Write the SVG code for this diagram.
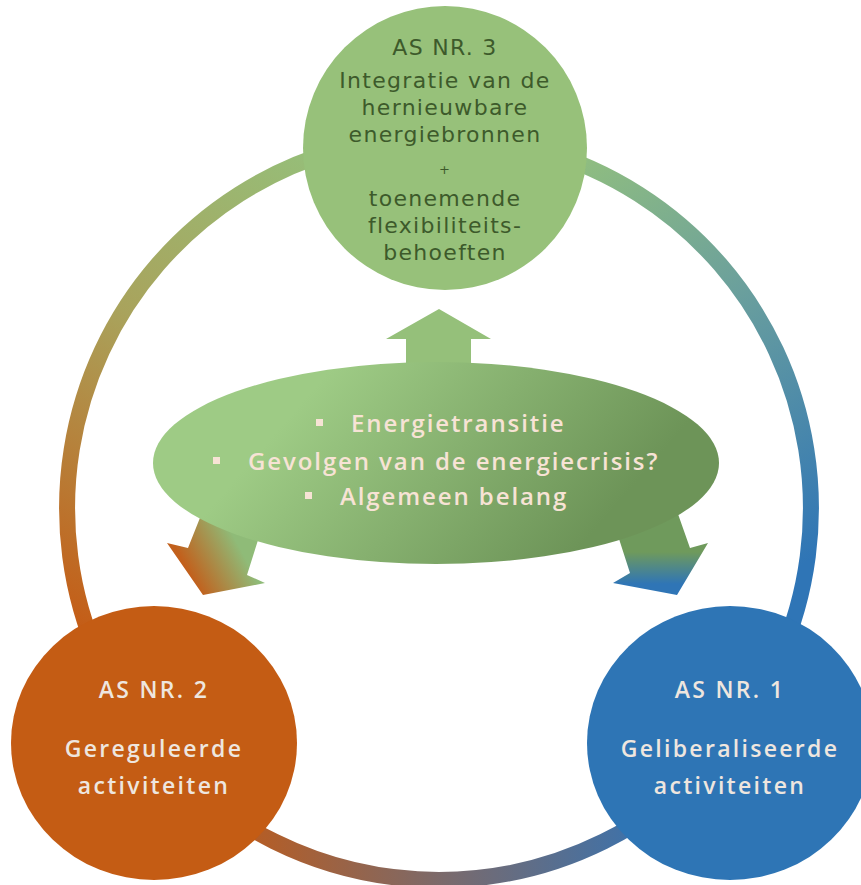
<svg xmlns="http://www.w3.org/2000/svg" width="861" height="885" viewBox="0 0 861 885">
<defs>
<style>
.ring{fill:none;stroke-width:16}
.t3{font-family:"DejaVu Sans","Open Sans",sans-serif;font-size:22px;fill:#3d5a2b;text-anchor:middle;letter-spacing:1.3px}
.tb{font-family:"Open Sans","Liberation Sans",sans-serif;font-size:23px;font-weight:600;fill:#eee6df;text-anchor:middle;letter-spacing:2.3px}
.te{font-family:"Open Sans","Liberation Sans",sans-serif;font-size:24px;font-weight:600;fill:#f7e3d5;letter-spacing:1.9px}
.bul{fill:#f7e3d5}
</style>
<linearGradient id="gLeft" gradientUnits="userSpaceOnUse" x1="330" y1="150" x2="70" y2="620">
<stop offset="0" stop-color="#95bf7a"/>
<stop offset="0.45" stop-color="#a9a35c"/>
<stop offset="1" stop-color="#c45d17"/>
</linearGradient>
<linearGradient id="gRight" gradientUnits="userSpaceOnUse" x1="560" y1="150" x2="810" y2="560">
<stop offset="0" stop-color="#93c07d"/>
<stop offset="0.45" stop-color="#6a9f9d"/>
<stop offset="1" stop-color="#2f75b6"/>
</linearGradient>
<linearGradient id="gBottom" gradientUnits="userSpaceOnUse" x1="250" y1="830" x2="640" y2="830">
<stop offset="0" stop-color="#b65d24"/>
<stop offset="0.5" stop-color="#7a6a6c"/>
<stop offset="1" stop-color="#3d72ab"/>
</linearGradient>
<linearGradient id="gEll" gradientUnits="userSpaceOnUse" x1="330" y1="370" x2="560" y2="570">
<stop offset="0" stop-color="#9ecb85"/>
<stop offset="1" stop-color="#6d9458"/>
</linearGradient>
<linearGradient id="gArrL" gradientUnits="userSpaceOnUse" x1="190" y1="575" x2="240" y2="548">
<stop offset="0" stop-color="#c2601c"/>
<stop offset="1" stop-color="#8fbb78"/>
</linearGradient>
<linearGradient id="gArrR" gradientUnits="userSpaceOnUse" x1="0" y1="552" x2="0" y2="584">
<stop offset="0" stop-color="#6f9a5c"/>
<stop offset="1" stop-color="#2f75b6"/>
</linearGradient>
</defs>
<rect width="861" height="885" fill="#ffffff"/>
<g id="connectors">
<path class="ring" stroke="url(#gLeft)" d="M439,136 A372,372 0 0 0 154,747"/>
<path class="ring" stroke="url(#gRight)" d="M439,136 A372,372 0 0 1 724,747"/>
<path class="ring" stroke="url(#gBottom)" d="M154,747 A372,372 0 0 0 724,747"/>
<polygon id="arrow-up" fill="#95c07a" points="406,380 406,339 386,339 439,309 491,339 471,339 471,380"/>
<polygon id="arrow-left" fill="url(#gArrL)" points="215,480 188,548 167,543 203,595 265,583 247,575 277,480"/>
<polygon id="arrow-right" fill="url(#gArrR)" points="600,480 630,573 613,583 677,595 708,543 690,548 666,480"/>
</g>
<g id="center-ellipse">
<ellipse cx="436" cy="463" rx="283" ry="101" fill="url(#gEll)"/>
<rect class="bul" x="316" y="419" width="7" height="7"/>
<text class="te" x="351" y="432">Energietransitie</text>
<rect class="bul" x="213" y="457" width="7" height="7"/>
<text class="te" x="248" y="470">Gevolgen van de energiecrisis?</text>
<rect class="bul" x="305" y="492" width="7" height="7"/>
<text class="te" x="340" y="505">Algemeen belang</text>
</g>
<g id="node-as3">
<circle cx="445" cy="148" r="142" fill="#97c17a"/>
<text class="t3" x="445" y="55">AS NR. 3</text>
<text class="t3" x="445" y="88">Integratie van de</text>
<text class="t3" x="445" y="115">hernieuwbare</text>
<text class="t3" x="445" y="142">energiebronnen</text>
<text class="t3" x="445" y="174" style="font-size:13px">+</text>
<text class="t3" x="445" y="206">toenemende</text>
<text class="t3" x="445" y="233">flexibiliteits-</text>
<text class="t3" x="445" y="260">behoeften</text>
</g>
<g id="node-as2">
<ellipse cx="154" cy="743" rx="143" ry="137" fill="#c45c14"/>
<text class="tb" x="154" y="698">AS NR. 2</text>
<text class="tb" x="154" y="757">Gereguleerde</text>
<text class="tb" x="154" y="794">activiteiten</text>
</g>
<g id="node-as1">
<ellipse cx="730" cy="743" rx="143" ry="137" fill="#2e75b5"/>
<text class="tb" x="730" y="698">AS NR. 1</text>
<text class="tb" x="730" y="757">Geliberaliseerde</text>
<text class="tb" x="730" y="794">activiteiten</text>
</g>
</svg>
